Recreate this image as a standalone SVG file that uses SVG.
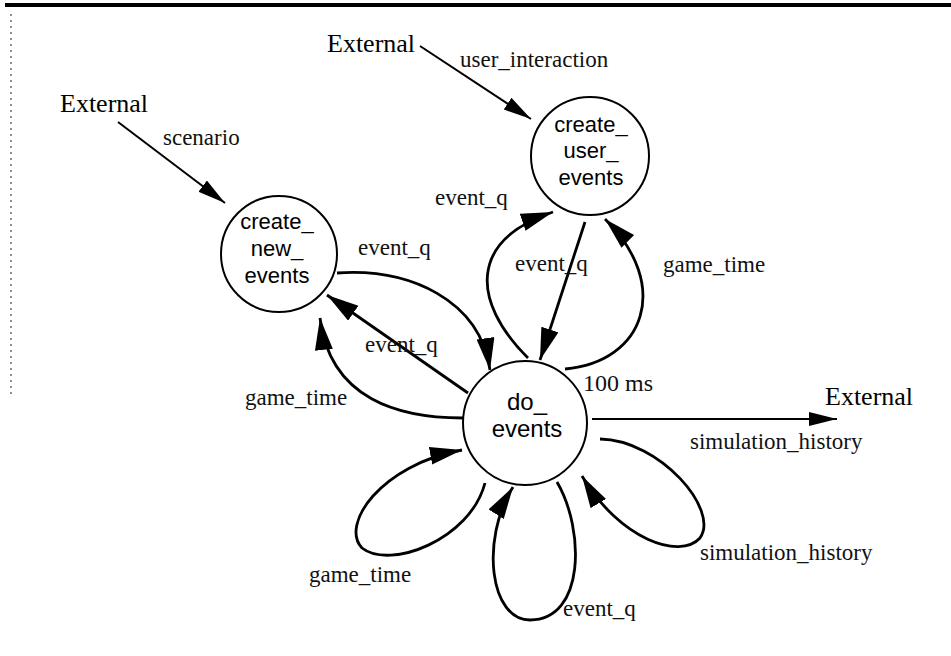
<svg xmlns="http://www.w3.org/2000/svg" width="951" height="656" viewBox="0 0 951 656">
<defs>
<marker id="ah" markerUnits="userSpaceOnUse" markerWidth="34" markerHeight="20" refX="32" refY="9" orient="auto">
<path d="M0,0 L32,9 L0,18 z" fill="#000"/>
</marker>
<marker id="ax" markerUnits="userSpaceOnUse" markerWidth="30" markerHeight="16" refX="28" refY="7" orient="auto">
<path d="M0,0 L28,7 L0,14 z" fill="#000"/>
</marker>
<style>
.node{fill:#fff;stroke:#000;stroke-width:2}
.nt{font-family:"Liberation Sans",Arial,sans-serif;font-size:22px;fill:#000;text-anchor:middle}
.lb{font-family:"Liberation Serif","Times New Roman",serif;font-size:23px;fill:#111}
.ext{font-family:"Liberation Serif","Times New Roman",serif;font-size:26px;fill:#000}
.flow{fill:none;stroke:#000;stroke-width:2.8;marker-end:url(#ah)}
.xline{fill:none;stroke:#000;stroke-width:2;marker-end:url(#ax)}
</style>
</defs>
<rect width="951" height="656" fill="#fff"/>
<rect x="5" y="3" width="946" height="4" fill="#000"/>
<line x1="11" y1="14" x2="11" y2="397" stroke="#444" stroke-width="1.2" stroke-dasharray="2,4"/>

<g id="connectors">
<path class="xline" d="M118,122 L225,203"/>
<path class="xline" d="M420,46 L531,119"/>
<path class="xline" d="M592,419 L837,419"/>
<path class="flow" d="M337,273 C410,268 480,300 490,370"/>
<path class="flow" d="M468,393 L327,295"/>
<path class="flow" d="M463,418 C400,418 330,400 320,318"/>
<path class="flow" d="M528,358 C470,300 470,240 553,212"/>
<path class="flow" d="M585,222 L540,360"/>
<path class="flow" d="M565,369 C645,362 672,285 605,219"/>
<path class="flow" d="M485,483 C470,540 390,570 362,548 C340,525 380,465 462,450"/>
<path class="flow" d="M557,482 C585,530 585,620 530,620 C490,620 480,540 513,487"/>
<path class="flow" d="M600,439 C660,440 720,510 700,538 C680,560 620,540 582,476"/>
</g>

<g id="labels">
<text class="ext" x="60" y="112">External</text>
<text class="lb" x="163" y="145">scenario</text>
<text class="ext" x="327" y="52">External</text>
<text class="lb" x="460" y="67">user_interaction</text>
<text class="lb" x="358" y="255">event_q</text>
<text class="lb" x="365" y="352">event_q</text>
<text class="lb" x="245" y="405">game_time</text>
<text class="lb" x="435" y="205">event_q</text>
<text class="lb" x="515" y="271">event_q</text>
<text class="lb" x="663" y="272">game_time</text>
<text class="lb" x="583" y="391" style="font-size:24px">100 ms</text>
<text class="ext" x="825" y="405">External</text>
<text class="lb" x="690" y="449">simulation_history</text>
<text class="lb" x="700" y="560">simulation_history</text>
<text class="lb" x="309" y="582">game_time</text>
<text class="lb" x="563" y="616">event_q</text>
</g>

<g id="create_new_events">
<circle class="node" cx="279" cy="254" r="58"/>
<text class="nt" x="277" y="229">create_</text>
<text class="nt" x="277" y="256">new_</text>
<text class="nt" x="277" y="283">events</text>
</g>

<g id="create_user_events">
<circle class="node" cx="590" cy="156" r="59"/>
<text class="nt" x="591" y="132">create_</text>
<text class="nt" x="591" y="158">user_</text>
<text class="nt" x="591" y="185">events</text>
</g>

<g id="do_events">
<circle class="node" cx="525" cy="423" r="62"/>
<text class="nt" x="527" y="410" style="font-size:24px">do_</text>
<text class="nt" x="527" y="437" style="font-size:24px">events</text>
</g>
</svg>
